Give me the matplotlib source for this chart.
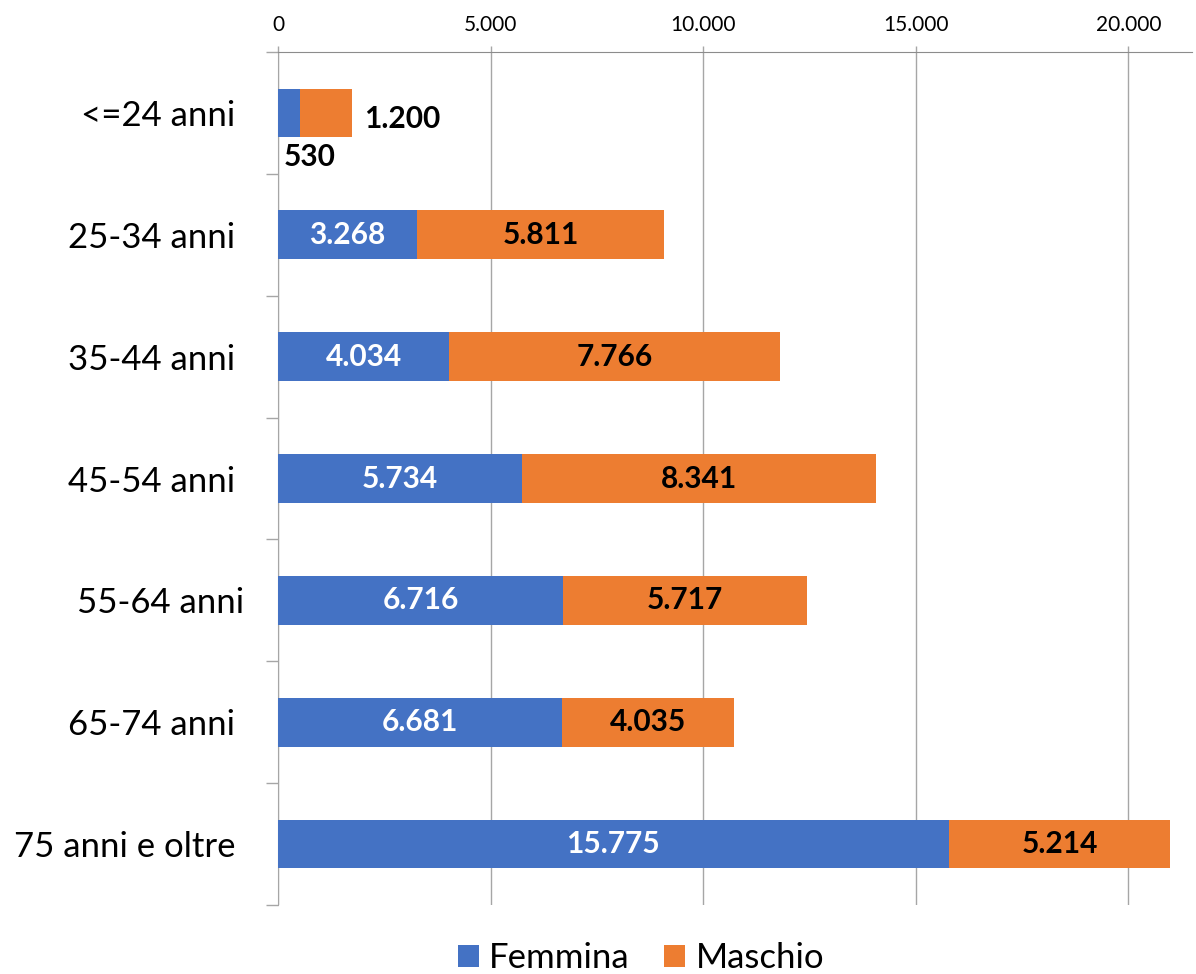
import matplotlib.pyplot as plt
from matplotlib.ticker import FuncFormatter

# 数据
categorie = ['<=24 anni ', '25-34 anni ', '35-44 anni ', '45-54 anni ',
             '55-64 anni', '65-74 anni ', '75 anni e oltre ']
femmina = [530, 3268, 4034, 5734, 6716, 6681, 15775]
maschio = [1200, 5811, 7766, 8341, 5717, 4035, 5214]

plt.rcParams['font.family'] = ['Lato', 'DejaVu Sans']

fig = plt.figure(figsize=(11.96, 9.74), dpi=100)
ax = fig.add_axes([0.2324, 0.0708, 0.9967 - 0.2324, 0.9466 - 0.0708])

y = list(range(len(categorie)))
blu = '#4472C4'
arancio = '#ED7D31'
ax.barh(y, femmina, height=0.4, color=blu, label='Femmina', zorder=3)
ax.barh(y, maschio, height=0.4, left=femmina, color=arancio, label='Maschio', zorder=3)


def fmt(v):
    return f'{v:,}'.replace(',', '.')


# etichette dei valori
for i in range(len(categorie)):
    f, m = femmina[i], maschio[i]
    if f < 1500:
        ax.text(130, i + 0.36, fmt(f), ha='left', va='center', fontsize=21.5,
                fontweight='bold', color='black', zorder=4)
        ax.text(f + m + 300, i + 0.05, fmt(m), ha='left', va='center', fontsize=21.5,
                fontweight='bold', color='black', zorder=4)
    else:
        ax.text(f / 2, i, fmt(f), ha='center', va='center', fontsize=21.5,
                fontweight='bold', color='white', zorder=4)
        ax.text(f + m / 2, i, fmt(m), ha='center', va='center', fontsize=21.5,
                fontweight='bold', color='black', zorder=4)

ax.set_xlim(0, 21500)
ax.set_ylim(len(categorie) - 0.5, -0.5)

ax.xaxis.tick_top()
ax.set_xticks([0, 5000, 10000, 15000, 20000])
ax.xaxis.set_major_formatter(FuncFormatter(lambda v, p: fmt(int(v))))
ax.tick_params(axis='x', which='major', length=4.5, width=1, color='#a6a6a6',
               labelsize=15, pad=8)
ax.grid(axis='x', color='#a6a6a6', linewidth=1, zorder=0)

ax.set_yticks(y)
ax.set_yticklabels(categorie)
ax.tick_params(axis='y', which='major', length=0, labelsize=25, pad=24.5)
ax.set_yticks([i - 0.5 for i in range(len(categorie) + 1)], minor=True)
ax.tick_params(axis='y', which='minor', length=9, width=1, color='#a6a6a6')

for s in ['right', 'bottom']:
    ax.spines[s].set_visible(False)
ax.spines['top'].set_color('#8c8c8c')
ax.spines['left'].set_color('#a6a6a6')

fig.legend(loc='center', bbox_to_anchor=(641 / 1196, 1 - 958 / 974), ncol=2,
           frameon=False, fontsize=25, handlelength=0.6, handleheight=0.6,
           handletextpad=0.3, columnspacing=1.0)

plt.savefig('out.png')
